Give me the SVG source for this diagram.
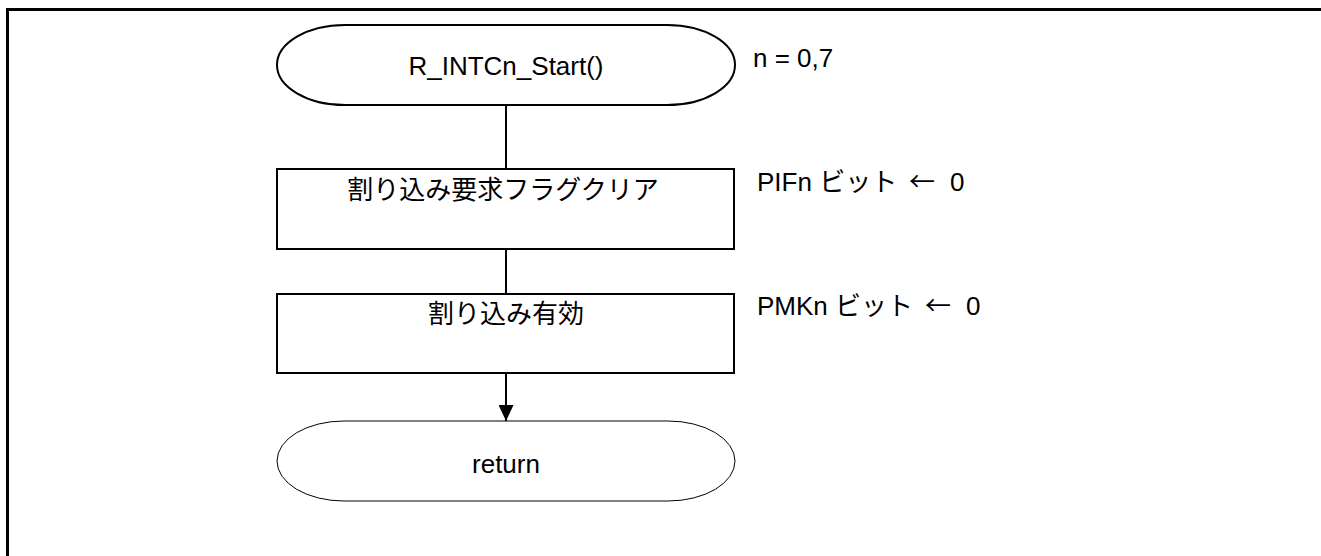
<svg xmlns="http://www.w3.org/2000/svg" width="1321" height="556" viewBox="0 0 1321 556">
<defs>
<style>
.t{font-family:"Liberation Sans","Noto Sans CJK JP",Arial,sans-serif;font-size:26px;fill:#000}
.j{font-family:"Noto Sans CJK JP",sans-serif}
.c{text-anchor:middle}
.sh{fill:#fff;stroke:#000;stroke-width:2}
.ln{stroke:#000;stroke-width:2;fill:none}
</style>
<marker id="ah" viewBox="0 0 16 15" refX="16" refY="7.5" markerWidth="16" markerHeight="15" markerUnits="userSpaceOnUse" orient="auto">
<path d="M0,0 L16,7.5 L0,15 z" fill="#000"/>
</marker>
</defs>
<rect width="1321" height="556" fill="#fff"/>
<path d="M7.5,556 V9.5 H1321" fill="none" stroke="#000" stroke-width="3"/>
<g id="connectors">
<line class="ln" x1="506" y1="105" x2="506" y2="169"/>
<line class="ln" x1="506" y1="249" x2="506" y2="294"/>
<line class="ln" x1="506" y1="373" x2="506" y2="421" marker-end="url(#ah)"/>
</g>
<g id="start">
<rect class="sh" x="277" y="25" width="458" height="80" rx="68" ry="40"/>
<text class="t c" x="506" y="75">R_INTCn_Start()</text>
<text class="t" x="753" y="67">n = 0,7</text>
</g>
<g id="clear">
<rect class="sh" x="277" y="169" width="457" height="80"/>
<text class="t c j" x="503" y="199">割り込み要求フラグクリア</text>
<text class="t" x="757" y="191">PIFn <tspan class="j">ビット</tspan> <tspan class="j" x="909">←</tspan> <tspan x="950">0</tspan></text>
</g>
<g id="enable">
<rect class="sh" x="277" y="294" width="457" height="79"/>
<text class="t c j" x="506" y="323">割り込み有効</text>
<text class="t" x="757" y="315">PMKn <tspan class="j">ビット</tspan> <tspan class="j" x="925">←</tspan> <tspan x="966">0</tspan></text>
</g>
<g id="return">
<rect x="277" y="421" width="458" height="80" rx="67" ry="40" fill="#fff" stroke="#000" stroke-width="1"/>
<text class="t c" x="506" y="473">return</text>
</g>
</svg>
